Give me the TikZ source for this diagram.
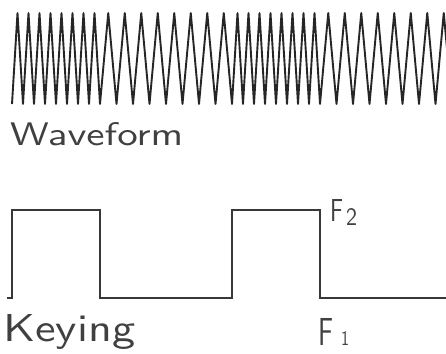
\documentclass[tikz,border=0pt]{standalone}
\usepackage{fontspec}
\begin{document}
\begin{tikzpicture}[x=1pt,y=-1pt,
  wave/.style={line width=1.9pt, draw=black!85, line join=round},
  keyline/.style={line width=1.3pt, draw=black!78},
  lbl/.style={inner sep=0pt, text=black!75, font=\sffamily}]
\useasboundingbox (0,0) rectangle (446,353);
\fill[white] (0,0) rectangle (446,353);
\begin{scope}
\clip (0,0) rectangle (446,353);
\draw[wave] (12,104)
 \foreach \k in {0,...,7} { -- ({12+11*\k+5.5},13) -- ({12+11*(\k+1)},104) }
 \foreach \k in {0,...,7} { -- ({100+16.5*\k+8.25},13) -- ({100+16.5*(\k+1)},104) }
 \foreach \k in {0,...,7} { -- ({232+11*\k+5.5},13) -- ({232+11*(\k+1)},104) }
 \foreach \k in {0,...,7} { -- ({320+16.5*\k+8.25},13) -- ({320+16.5*(\k+1)},104) };
\draw[keyline] (7,298) -- (12,298) -- (12,210) -- (100,210) -- (100,298) -- (232,298)
  -- (232,210) -- (320,210) -- (320,298) -- (446,298);
\end{scope}
\node[lbl, anchor=base west] (wf) at (10,145) {\resizebox{173pt}{23pt}{Waveform}};
\node[lbl, anchor=base west] (ky) at (3,341) {\resizebox{132pt}{27pt}{Keying}};
\node[lbl, anchor=base west] (f2) at (330,221) {\resizebox{13pt}{22pt}{F}\hspace{3pt}\raisebox{-4pt}{\resizebox{11pt}{17pt}{2}}};
\node[lbl, anchor=base west] (f1) at (318,345) {\resizebox{15pt}{27pt}{F}\hspace{8pt}\resizebox{8pt}{14pt}{1}};
\end{tikzpicture}
\end{document}
